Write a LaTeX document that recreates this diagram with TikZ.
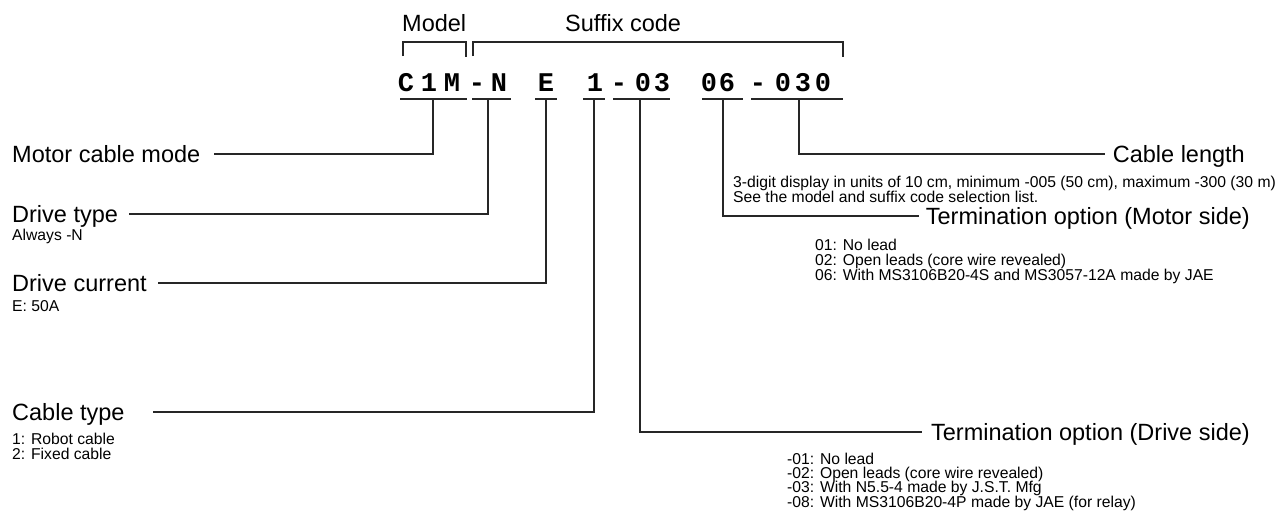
\documentclass[tikz,border=0pt]{standalone}
\usepackage{fontspec}
\setmainfont{Liberation Sans}
\newfontfamily\codefont{Liberation Mono}
\begin{document}
\begin{tikzpicture}[x=1pt,y=-1pt,
  lbl/.style={font=\fontsize{23.5}{23.5}\selectfont, inner sep=0pt, text height=16.8pt, text depth=0pt},
  head/.style={font=\fontsize{23.5}{23.5}\selectfont, inner sep=0pt, anchor=base west},
  note/.style={font=\fontsize{15.7}{15.7}\selectfont, inner sep=0pt, anchor=base west},
  code/.style={font=\codefont\fontsize{27}{27}\bfseries\selectfont, inner sep=0pt, anchor=base},
  wire/.style={line width=1.1pt, draw=black!85}]
\useasboundingbox[fill=white] (0,0) rectangle (1276,514);

% headings and brackets
\node[head] (model) at (402,31) {Model};
\node[head] (suffix) at (565,31) {Suffix code};
\draw[wire] (403,56) -- (403,42) -- (466,42) -- (466,57);
\draw[wire] (473,56) -- (473,42) -- (843,42) -- (843,57);

% code characters
\foreach \c/\x [count=\i] in {C/406,1/429,M/452,-/477,N/499,E/546,1/595,-/619,0/643,3/662,0/709,6/727,-/758,0/783,3/803,0/823}
  \node[code] (k\i) at (\x,91) {\c};

% underlines
\draw[wire] (400,99) -- (467,99);
\draw[wire] (472,99) -- (511,99);
\draw[wire] (535,99) -- (557,99);
\draw[wire] (583,99) -- (605,99);
\draw[wire] (613,99) -- (670,99);
\draw[wire] (702,99) -- (743,99);
\draw[wire] (751,99) -- (843,99);

\coordinate (t1) at (433,99);
\coordinate (t2) at (488,99);
\coordinate (t3) at (546,99);
\coordinate (t4) at (594,99);
\coordinate (t5) at (640,99);
\coordinate (t6) at (723,99);
\coordinate (t7) at (799,99);

% left labels
\node[lbl, anchor=west] (mcm) at (12,154) {Motor cable mode};
\node[lbl, anchor=west] (dtype) at (12,214) {Drive type};
\node[note] (dtypen) at (12,240) {Always -N};
\node[lbl, anchor=west] (dcur) at (12,283) {Drive current};
\node[note] (dcurn) at (12,311) {E: 50A};
\node[lbl, anchor=west] (ctype) at (12,412) {Cable type};
\node[note] (ctype1) at (12,444) {1: Robot cable};
\node[note] (ctype2) at (12,459) {2: Fixed cable};

% right labels
\node[lbl, anchor=east] (clen) at (1245,154) {Cable length};
\node[note] (clen1) at (733,187) {3-digit display in units of 10 cm, minimum -005 (50 cm), maximum -300 (30 m)};
\node[note] (clen2) at (733,202) {See the model and suffix code selection list.};
\node[lbl, anchor=east] (tmot) at (1250,216) {Termination option (Motor side)};
\node[note] (tmot1) at (815,250) {01: No lead};
\node[note] (tmot2) at (815,265) {02: Open leads (core wire revealed)};
\node[note] (tmot3) at (815,280) {06: With MS3106B20-4S and MS3057-12A made by JAE};
\node[lbl, anchor=east] (tdrv) at (1250,432) {Termination option (Drive side)};
\node[note] (tdrv1) at (787,464) {-01: No lead};
\node[note] (tdrv2) at (787,478) {-02: Open leads (core wire revealed)};
\node[note] (tdrv3) at (787,492) {-03: With N5.5-4 made by J.S.T. Mfg};
\node[note] (tdrv4) at (787,507) {-08: With MS3106B20-4P made by JAE (for relay)};

% leaders
\draw[wire] (t1) |- ([xshift=14pt]mcm.east);
\draw[wire] (t2) |- ([xshift=11pt]dtype.east);
\draw[wire] (t3) |- ([xshift=11pt]dcur.east);
\draw[wire] (t4) |- ([xshift=28pt]ctype.east);
\draw[wire] (t7) |- ([xshift=-8pt]clen.west);
\draw[wire] (t6) |- ([xshift=-7pt]tmot.west);
\draw[wire] (t5) |- ([xshift=-9pt]tdrv.west);
\end{tikzpicture}
\end{document}
